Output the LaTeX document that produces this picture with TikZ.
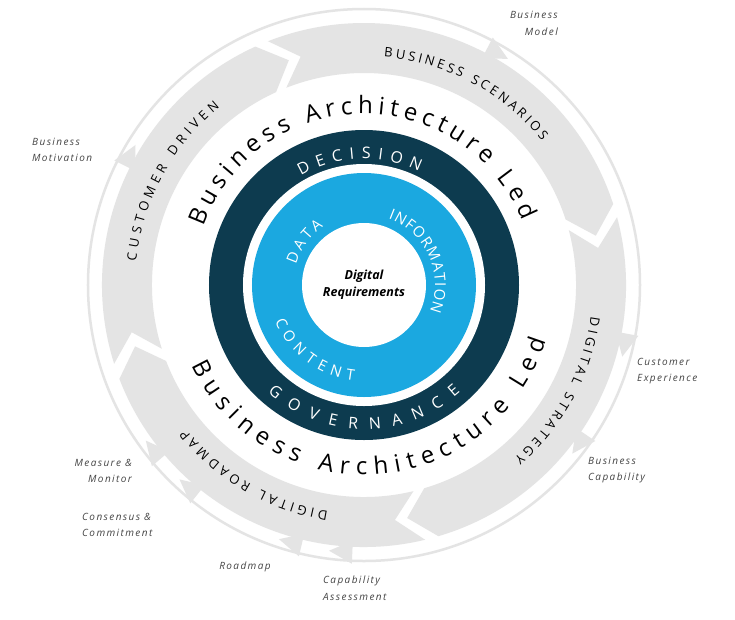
\documentclass[tikz,border=0pt]{standalone}
\usepackage{fontspec}
\setmainfont{Open Sans}
\setsansfont{Open Sans}
\newfontfamily\lblfont[LetterSpace=14]{Open Sans}
\usetikzlibrary{decorations.text}
\definecolor{bandgray}{HTML}{E4E4E4}
\definecolor{ringdark}{HTML}{0D3B4F}
\definecolor{ringblue}{HTML}{1BA8E0}
\definecolor{lblgray}{HTML}{444444}
\newcommand\arrowseg[2]{%
  \fill[bandgray] (#1:262pt) arc[start angle=#1,end angle=#2,radius=262pt]
    -- ({#2-6}:237pt) -- (#2:212pt) arc[start angle=#2,end angle=#1,radius=212pt]
    -- ({#1-6}:237pt) -- cycle;}
\newcommand\tabmark[1]{%
  \fill[bandgray] ({#1+2.5}:256pt) -- ({#1+2.5}:279pt) -- ({#1-2.5}:268pt) -- cycle;}
\newcommand\arctext[5]{% radius, start, end, color, text
  \path[decorate,decoration={text along path,text align={fit to path},
    text color=#4,text={#5}}]
    (#2:#1) arc[start angle=#2,end angle=#3,radius=#1];}
\begin{document}
\begin{tikzpicture}[x=1pt,y=1pt,
  smalllbl/.style={font=\lblfont\itshape\fontsize{10}{16.5}\selectfont,text=lblgray,inner sep=0pt}]
\useasboundingbox[fill=white] (-364,285) rectangle (371,-334);
% outer thin circle
\draw[bandgray,line width=2.5pt] (0,0) circle[radius=276pt];
% tabs
\foreach \a in {60,151,-13,-36.5,218,229,254,265} {\tabmark{\a}}
% arrow segments (clockwise)
\arrowseg{197.5}{114.5}
\arrowseg{111.5}{18}
\arrowseg{15}{-73.5}
\arrowseg{-76.5}{-159}
% band labels
\arctext{229pt}{174}{129}{black}{|\fontsize{13}{13}\selectfont|CUSTOMER DRIVEN}
\arctext{229pt}{85}{39}{black}{|\fontsize{13}{13}\selectfont|BUSINESS SCENARIOS}
\arctext{229pt}{-8}{-49}{black}{|\fontsize{13}{13}\selectfont|DIGITAL STRATEGY}
\arctext{229pt}{261}{219}{black}{|\fontsize{13}{13}\selectfont|DIGITAL ROADMAP}
% big text
\arctext{171pt}{160}{22}{black}{|\fontsize{24}{24}\selectfont|Business Architecture Led}
\arctext{190pt}{205}{343}{black}{|\fontsize{24}{24}\selectfont|Business Architecture Led}
% rings
\node[circle,fill=ringdark,minimum size=310pt,inner sep=0pt] (dark) at (0,0) {};
\node[circle,fill=white,minimum size=242pt,inner sep=0pt] (gap) at (0,0) {};
\node[circle,fill=ringblue,minimum size=224pt,inner sep=0pt] (blue) at (0,0) {};
\node[circle,fill=white,minimum size=124pt,inner sep=0pt,align=center,
  font=\bfseries\itshape\fontsize{12.5}{17}\selectfont] (core) at (0,0) {Digital\\Requirements};
\arctext{126pt}{120}{64}{white}{|\fontsize{16}{16}\selectfont|DECISION}
\arctext{144pt}{228}{312}{white}{|\fontsize{16}{16}\selectfont|GOVERNANCE}
\arctext{71pt}{163}{125}{white}{|\fontsize{15}{15}\selectfont|DATA}
\arctext{71pt}{70}{-22}{white}{|\fontsize{15}{15}\selectfont|INFORMATION}
\arctext{96pt}{202}{264}{white}{|\fontsize{15}{15}\selectfont|CONTENT}
% small labels
\node[smalllbl,anchor=north east,align=right] (bm) at (194,274) {Business\\Model};
\node[smalllbl,anchor=west,align=left] (bmo) at (-332,135) {Business\\Motivation};
\node[smalllbl,anchor=west,align=left] (ce) at (273,-86) {Customer\\Experience};
\node[smalllbl,anchor=west,align=left] (bc) at (224,-185) {Business\\Capability};
\node[smalllbl,anchor=east,align=right] (mm) at (-232,-186) {Measure \&\\Monitor};
\node[smalllbl,anchor=west,align=left] (cc) at (-282,-240) {Consensus \&\\Commitment};
\node[smalllbl] (rm) at (-119,-282) {Roadmap};
\node[smalllbl,anchor=west,align=left] (ca) at (-41,-303) {Capability\\Assessment};
\end{tikzpicture}
\end{document}
